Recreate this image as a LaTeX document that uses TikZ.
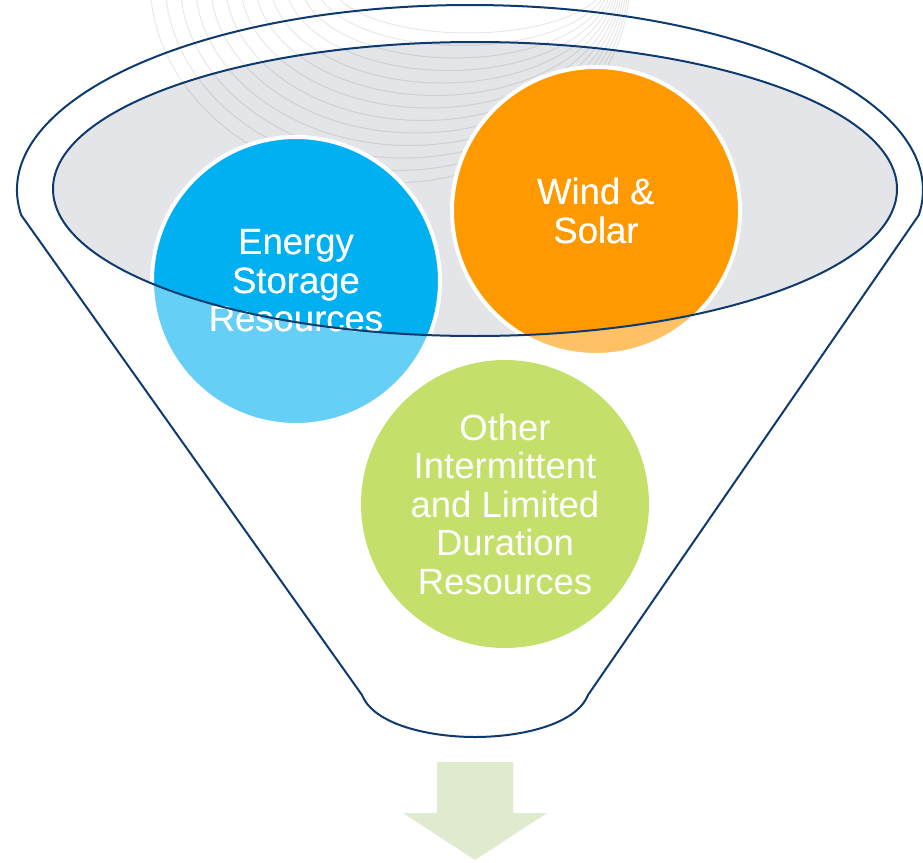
\documentclass[tikz,border=0pt]{standalone}
\usepackage{fontspec}
\setmainfont{Liberation Sans}
\definecolor{navy}{HTML}{0E3B6F}
\definecolor{ellfill}{HTML}{E4E5E9}
\definecolor{esblue}{HTML}{00B0F0}
\definecolor{wsorange}{HTML}{FF9900}
\definecolor{oigreen}{HTML}{C5E06A}
\definecolor{arrgreen}{HTML}{DFEACF}
\begin{document}
\begin{tikzpicture}[x=1pt,y=-1pt,
  bubble/.style={circle, draw=white, line width=4pt, minimum size=288pt, inner sep=0pt,
    text=white, align=center, font=\fontsize{36.5}{38.5}\selectfont},
  bubbletext/.style={text=white, align=center, font=\fontsize{36.5}{38.5}\selectfont},
  funnelline/.style={draw=navy, line width=2pt}]
\useasboundingbox (0,0) rectangle (923,862);
% inner ellipse fill
\fill[ellfill] (475,189) ellipse[x radius=422, y radius=147];
% faint background arcs
\begin{scope}
\clip (0,0) rectangle (923,862);
\foreach \i in {0,...,12} {
  \pgfmathsetmacro{\L}{150+15*\i}
  \pgfmathsetmacro{\R}{630-2*\i}
  \pgfmathsetmacro{\cx}{(\L+\R)/2}
  \pgfmathsetmacro{\rx}{(\R-\L)/2}
  \pgfmathsetmacro{\ry}{203-12.5*\i}
  \draw[black, opacity=0.09, line width=1pt] (\cx+\rx,-20) arc[start angle=0, end angle=180, x radius=\rx, y radius=\ry];
}
\end{scope}
% funnel outline
\draw[funnelline] (21.2,215.1) arc[start angle=172.2, end angle=367.8, x radius=453, y radius=185]
  -- (588,695) .. controls (576,725) and (520,737) .. (475,737)
  .. controls (430,737) and (374,725) .. (362,695) -- cycle;
% bubbles
\node[bubble, fill=esblue] (esr) at (296,281) {Energy\\Storage\\Resources};
\node[bubble, fill=wsorange] (ws) at (596,211) {Wind \&\\Solar};
\node[bubble, fill=oigreen, draw=none] (oth) at (505,504) {Other\\Intermittent\\and Limited\\Duration\\Resources};
% lighten the parts of bubbles outside the inner ellipse
\begin{scope}
\clip (esr.center) circle (146);
\fill[white, opacity=0.4, even odd rule] (0,0) rectangle (923,862) (475,189) ellipse[x radius=422, y radius=147];
\end{scope}
\begin{scope}
\clip (ws.center) circle (146);
\fill[white, opacity=0.4, even odd rule] (0,0) rectangle (923,862) (475,189) ellipse[x radius=422, y radius=147];
\end{scope}
% texts on top of the lightening
\node[bubbletext] (esrtext) at (esr.center) {Energy\\Storage\\Resources};
\node[bubbletext] (wstext) at (ws.center) {Wind \&\\Solar};
% inner ellipse outline
\draw[funnelline] (475,189) ellipse[x radius=422, y radius=147];
% arrow
\fill[arrgreen] (437,762) -- (513,762) -- (513,813) -- (547,813) -- (475,860) -- (403,813) -- (437,813) -- cycle;
\end{tikzpicture}
\end{document}
